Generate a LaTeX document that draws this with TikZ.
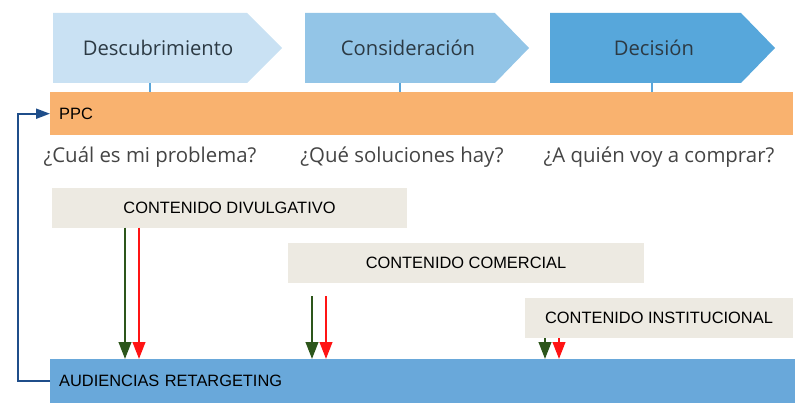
\documentclass[tikz,border=0pt]{standalone}
\usepackage{fontspec}
\setmainfont{Open Sans}
\newfontfamily\arialfont{Liberation Sans}
\usetikzlibrary{arrows.meta}

\definecolor{phaseA}{HTML}{C9E1F3}
\definecolor{phaseB}{HTML}{93C5E7}
\definecolor{phaseC}{HTML}{57A7DB}
\definecolor{tickblue}{HTML}{5AA6DA}
\definecolor{ppcorange}{HTML}{F9B26F}
\definecolor{audblue}{HTML}{69A8DA}
\definecolor{boxgrey}{HTML}{EDEAE2}
\definecolor{darktext}{HTML}{2C3A44}
\definecolor{qtext}{HTML}{444444}
\definecolor{arrgreen}{HTML}{2D561B}
\definecolor{arrred}{HTML}{FF1414}
\definecolor{loopblue}{HTML}{1F4E8A}

\tikzset{
  bar/.style={inner ysep=0pt, inner xsep=9pt, minimum height=43pt, align=left,
    font=\arialfont\fontsize{16.4}{19}\selectfont},
  contentbox/.style={fill=boxgrey, inner sep=0pt, minimum height=40pt,
    font=\arialfont\fontsize{16.4}{19}\selectfont},
  question/.style={text=qtext, font=\fontsize{20.4}{24}\selectfont},
  phasetext/.style={text=darktext, font=\fontsize{20.2}{24}\selectfont},
  feed/.style={line width=2.5pt, -{Triangle[length=17pt,width=12.5pt]}},
}

\begin{document}
\begin{tikzpicture}[x=1pt,y=-1pt]
        \useasboundingbox (0,0) rectangle (809,412);

        % Phases
        \fill[phaseA] (53,13) -- (247,13) -- (282,48) -- (247,83) -- (53,83) -- cycle;
        \fill[phaseB] (305,13) -- (495,13) -- (529,48) -- (495,83) -- (305,83) -- cycle;
        \fill[phaseC] (550,13) -- (741,13) -- (775,48) -- (741,83) -- (550,83) -- cycle;
        \node[phasetext] (desc) at (158,48) {Descubrimiento};
        \node[phasetext] (cons) at (408,48) {Consideración};
        \node[phasetext] (deci) at (654,48) {Decisión};

        % Ticks
        \foreach \tx in {150,400,652}
          \draw[tickblue,line width=1.5pt] (\tx,83) -- (\tx,92);

        % PPC
        \node[bar, fill=ppcorange, text width=725pt, anchor=north west] (ppc) at (50,92) {PPC};

        % Questions
        \node[question] (q1) at (150,157) {¿Cuál es mi problema?};
        \node[question] (q2) at (402,157) {¿Qué soluciones hay?};
        \node[question] (q3) at (659,157) {¿A quién voy a comprar?};

        % Content
        \node[contentbox, minimum width=355pt] (divul) at (229.5,207.5) {CONTENIDO DIVULGATIVO};
        \node[contentbox, minimum width=356pt] (comer) at (466,263) {CONTENIDO COMERCIAL};
        \node[contentbox, minimum width=268pt] (insti) at (659,318) {CONTENIDO INSTITUCIONAL};

        % Retargeting
        \node[bar, fill=audblue, minimum height=44pt, text width=727pt, anchor=north west] (aud) at (50,359) {AUDIENCIAS RETARGETING};

        % Arrows
        \coordinate (g1) at (125,0);
        \coordinate (r1) at (139,0);
        \coordinate (g2) at (312,0);
        \coordinate (r2) at (326,0);
        \coordinate (g3) at (545,0);
        \coordinate (r3) at (559,0);
        \draw[feed,arrgreen] (divul.south -| g1) -- (aud.north -| g1);
        \draw[feed,arrred] (divul.south -| r1) -- (aud.north -| r1);
        \draw[feed,arrgreen,shorten <=13pt] (comer.south -| g2) -- (aud.north -| g2);
        \draw[feed,arrred,shorten <=13pt] (comer.south -| r2) -- (aud.north -| r2);
        \draw[feed,arrgreen] (insti.south -| g3) -- (aud.north -| g3);
        \draw[feed,arrred] (insti.south -| r3) -- (aud.north -| r3);

        % Loop back
        \draw[loopblue,line width=2pt,-{Triangle[length=14pt,width=10pt]}] (aud.west) -- ++(-32,0) |- (ppc.west);
\end{tikzpicture}
\end{document}
